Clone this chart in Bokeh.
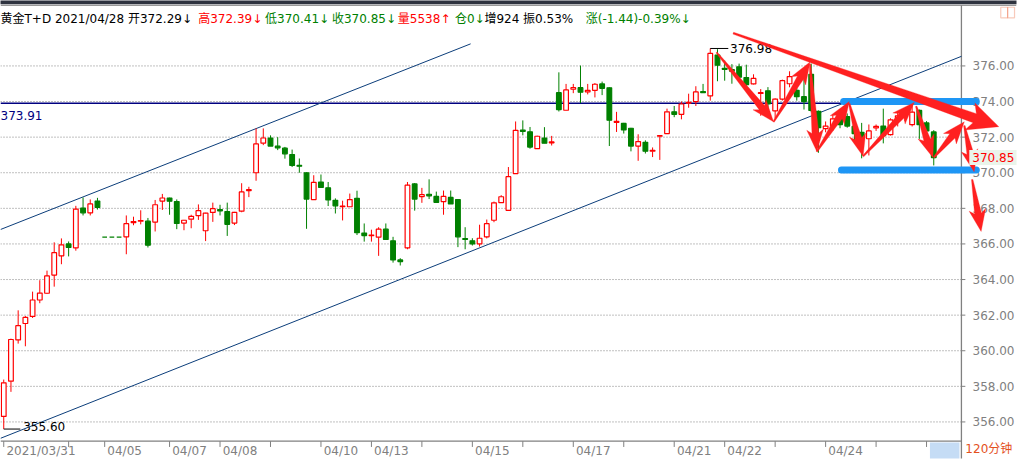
import math
from bokeh.plotting import figure
from bokeh.models import (Range1d, FixedTicker, PrintfTickFormatter, Label,
                          BoxAnnotation, PolyAnnotation, Arrow, ColumnDataSource)
from bokeh.embed import file_html
from bokeh.resources import INLINE

# ---------------- data (120-minute bars, 黄金T+D) ----------------
opens = [356.31,358.29,360.61,361.53,361.93,362.85,363.23,364.25,365.33,366.00,
         365.78,368.02,367.75,368.41,366.38,366.38,366.38,366.40,367.20,367.28,
         367.28,367.23,368.41,368.58,368.38,367.17,367.39,367.59,366.74,367.77,
         367.93,367.82,367.17,367.84,369.00,370.00,371.66,371.95,371.49,371.38,
         371.02,370.41,370.00,368.49,369.48,369.15,368.45,368.10,368.09,368.56,
         366.61,366.47,366.38,366.83,366.18,365.10,365.78,369.37,368.66,368.79,
         368.67,368.38,368.61,368.49,366.30,366.18,366.00,366.40,367.33,368.32,
         367.89,369.95,372.40,372.30,371.35,371.95,371.68,374.50,373.51,374.69,
         374.78,374.54,374.63,374.99,374.77,372.83,372.77,372.50,371.50,371.71,
         371.21,372.05,372.20,373.42,373.28,373.91,374.00,374.56,374.32,376.61,
         375.86,375.80,375.95,375.35,374.99,374.45,374.60,373.48,374.14,375.00,
         374.63,374.27,375.53,373.45,372.48,372.62,373.20,373.15,372.60,372.27,
         371.91,372.52,372.62,372.14,372.95,373.20,372.70,373.50,372.80,372.29]
highs = [358.38,360.68,362.27,361.95,363.32,363.96,364.50,366.09,366.31,366.14,
         368.14,368.61,368.50,368.59,366.38,366.38,366.38,367.60,367.53,367.89,
         367.46,368.47,368.81,368.60,368.50,367.35,367.64,368.22,367.75,368.32,
         368.20,368.32,367.80,369.41,369.21,372.49,372.49,372.10,372.00,371.45,
         371.30,370.80,370.02,369.86,369.90,369.48,368.56,368.43,368.83,368.99,
         367.15,366.80,366.94,367.15,366.40,365.20,369.48,369.42,369.15,369.63,
         368.94,369.00,369.00,368.50,366.94,366.32,367.08,367.37,368.38,368.74,
         370.32,372.88,372.94,372.57,372.08,372.56,372.07,375.64,374.99,374.99,
         376.02,374.99,375.04,375.12,374.80,373.42,372.80,372.52,372.16,371.82,
         371.42,372.11,373.60,373.75,374.00,374.44,374.86,374.99,376.98,376.94,
         376.30,376.10,376.13,376.07,375.53,374.70,374.81,374.18,375.23,375.70,
         374.77,375.23,376.13,373.50,372.88,373.24,373.35,373.33,372.90,372.80,
         372.71,372.71,373.60,373.06,373.40,373.60,373.90,373.55,372.90,372.39]
lows = [355.60,357.69,360.40,360.25,361.84,362.67,363.20,363.60,364.86,365.30,
        365.62,367.60,367.60,367.93,366.38,366.38,366.38,365.42,367.05,367.10,
        365.80,366.70,367.91,367.64,366.83,366.77,366.88,367.35,366.16,367.24,
        367.60,366.45,367.06,367.78,368.63,369.55,371.55,371.50,371.27,370.79,
        370.32,370.00,366.85,368.49,369.17,368.13,367.71,367.32,368.09,366.50,
        366.13,366.13,365.33,366.25,364.95,364.79,365.70,367.87,368.31,368.52,
        368.34,367.64,368.25,365.82,365.70,365.91,365.85,366.31,367.22,368.32,
        367.89,369.95,372.10,371.35,371.35,371.66,371.53,373.44,373.51,374.47,
        373.91,374.40,374.23,374.36,371.50,372.29,372.20,371.20,370.67,371.08,
        370.88,370.72,372.20,373.12,373.00,373.65,373.75,374.50,374.05,375.14,
        375.17,375.00,375.14,374.77,374.96,373.20,373.60,373.06,374.05,374.80,
        374.05,373.55,373.40,371.12,372.27,372.35,372.50,372.53,371.80,370.81,
        370.97,372.35,371.65,372.09,372.60,372.90,372.60,371.90,371.90,370.41]
closes = [358.20,360.63,361.41,361.87,362.85,363.24,364.20,365.51,365.95,365.80,
          367.95,367.75,368.25,368.05,366.38,366.38,366.38,367.14,367.26,367.31,
          365.93,368.20,368.58,368.40,367.15,367.33,367.55,367.87,367.73,367.98,
          367.86,367.10,367.77,368.92,369.05,371.62,371.95,371.50,371.40,371.06,
          370.41,370.37,368.52,369.46,369.17,368.47,368.14,368.12,368.49,366.63,
          366.47,366.50,366.83,366.25,365.10,365.01,369.30,368.52,368.77,368.70,
          368.34,368.67,368.25,366.40,366.25,366.00,366.32,367.14,368.31,368.65,
          369.78,372.38,372.32,371.44,372.05,371.66,371.73,373.55,374.65,374.78,
          374.52,374.63,374.97,374.74,372.95,372.88,372.40,371.50,371.75,371.21,
          371.26,372.08,373.42,373.28,373.86,373.96,374.54,374.50,376.70,376.04,
          375.80,375.70,375.37,374.95,375.30,374.50,373.87,374.14,375.17,375.40,
          374.27,374.00,373.50,372.53,372.62,373.03,372.70,372.62,372.20,371.91,
          372.35,372.60,372.09,372.97,373.20,373.40,373.40,372.70,372.35,370.85]

tick_idx = [0, 9, 14, 23, 30, 37, 44, 51, 58, 65, 72, 79, 86, 93, 100, 107, 114, 121, 128]
tick_labels = ["2021/03/31", "", "04/05", "04/07", "04/08", "", "04/10", "04/13", "",
               "04/15", "", "04/17", "", "04/21", "04/22", "", "04/24", "", ""]
price_ticks = [356, 358, 360, 362, 364, 366, 368, 370, 372, 374, 376]
ref_price = 373.91
period_label = "120分钟"

header_texts = ["黄金T+D 2021/04/28 开372.29↓", "高372.39↓", "低370.41↓", "收370.85↓",
                "量5538↑", "仓0↓", "增924 振0.53%", "涨(-1.44)-0.39%↓"]
header_colors = ["#000000", "#FF0000", "#008000", "#008000", "#FF0000", "#008000",
                 "#000000", "#008000"]

# hand-drawn annotations (bar index, price)
channel_upper = [(-0.45, 366.81), (64.76, 377.24)]
channel_lower = [(-0.45, 355.08), (132.84, 376.54)]
blue_levels = [(116.5, 134.9, 374.0), (116.2, 134.9, 370.16)]
big_arrow = [(101.19, 377.84), (138.02, 372.59)]
zigzag = [((98.87, 376.76), (106.78, 372.86)), ((106.78, 372.86), (111.83, 376.22)),
          ((111.83, 376.11), (112.78, 371.19)), ((112.78, 371.19), (117.28, 374.00)),
          ((117.28, 373.89), (119.20, 370.92)), ((119.20, 370.92), (126.29, 373.95)),
          ((126.56, 373.73), (128.88, 370.86)), ((129.02, 370.86), (133.24, 372.86)),
          ((133.24, 372.65), (134.60, 370.05)), ((134.33, 369.62), (135.57, 366.70))]

# ---------------- geometry of the reference panel ----------------
W, H = 1017, 460
PX_I, PX_V = 7.33, 18.5          # reference pixels per bar / per price unit
def XI(px):                      # reference x pixel -> bar index
    return (px - 3.3) / PX_I
def YV(py):                      # reference y pixel -> price
    return 376 - (py - 68) / PX_V

AX_X = XI(977)     # price-axis line
AX_Y = YV(458)     # date-axis line
GRAY = "#808080"
FONT = "DejaVu Sans, Noto Sans CJK SC"

p = figure(width=W, height=H, x_range=Range1d(XI(0), XI(1033)),
           y_range=Range1d(YV(476), YV(0)),
           y_axis_location="right", output_backend="svg", toolbar_location=None,
           min_border_left=0, min_border_top=0, min_border_right=0, min_border_bottom=0,
           background_fill_color="white", border_fill_color="white")
p.outline_line_color = None
p.grid.visible = False

# right price axis (labels drawn back inside the panel, right of the axis line)
ya = p.yaxis[0]
ya.ticker = FixedTicker(ticks=price_ticks)
ya.formatter = PrintfTickFormatter(format="%.2f")
ya.axis_line_color = None
ya.major_tick_line_color = None
ya.minor_tick_line_color = None
ya.major_tick_in = 0
ya.major_tick_out = 0
ya.major_label_standoff = -44
ya.major_label_text_font = FONT
ya.major_label_text_font_size = "12px"
ya.major_label_text_color = GRAY

# bottom date axis: labels start just right of each tick
px_per_bar = W / (XI(1033) - XI(0))
def text_w(s):
    return sum(7.63 if c.isdigit() else 4.04 for c in s)
centers, overrides = [], {}
for t, lab in zip(tick_idx, tick_labels):
    if lab:
        c = round(t + (2.7 + text_w(lab) / 2) / px_per_bar, 3)
        centers.append(c)
        overrides[c] = lab
xa = p.xaxis[0]
xa.ticker = FixedTicker(ticks=centers)
xa.major_label_overrides = overrides
xa.axis_line_color = None
xa.major_tick_line_color = None
xa.minor_tick_line_color = None
xa.major_tick_in = 0
xa.major_tick_out = 0
xa.major_label_standoff = -15
xa.major_label_text_font = FONT
xa.major_label_text_font_size = "12px"
xa.major_label_text_color = GRAY

# top chrome
p.add_layout(BoxAnnotation(left=XI(-5), right=XI(1040), bottom=YV(4), top=YV(-5),
                           fill_color="#2E333F", fill_alpha=1, line_color=None))
p.segment(x0=[XI(0)], y0=[YV(5)], x1=[XI(1033)], y1=[YV(5)], line_color=GRAY)

# dotted grid, axis lines and tick marks
p.segment(x0=[XI(0)] * len(price_ticks), y0=price_ticks, x1=[AX_X] * len(price_ticks),
          y1=price_ticks, line_color=GRAY, line_dash="1 2", line_width=1)
p.segment(x0=[AX_X] * len(price_ticks), y0=price_ticks, x1=[XI(981)] * len(price_ticks),
          y1=price_ticks, line_color=GRAY)
p.segment(x0=[AX_X], y0=[YV(5)], x1=[AX_X], y1=[YV(480)], line_color=GRAY, line_width=1.3)
p.segment(x0=[XI(0)], y0=[AX_Y], x1=[AX_X], y1=[AX_Y], line_color=GRAY, line_width=1.3)
p.segment(x0=tick_idx, y0=[AX_Y] * len(tick_idx), x1=tick_idx,
          y1=[YV(464)] * len(tick_idx), line_color=GRAY)

# reference price line
p.segment(x0=[XI(0)], y0=[ref_price], x1=[AX_X], y1=[ref_price],
          line_color="#000080", line_width=1.5)

# channel lines
for (a, b) in (channel_upper, channel_lower):
    p.line([a[0], b[0]], [a[1], b[1]], line_color="#0B3D7A", line_width=1)

# candles
idx = list(range(len(opens)))
up = [c > o for o, c in zip(opens, closes)]
col = ["#FF0000" if u else "#008000" for u in up]
src = ColumnDataSource(dict(
    x=idx, o=opens, h=highs, l=lows, c=closes, col=col,
    top=[max(o, c) for o, c in zip(opens, closes)],
    bot=[min(o, c) for o, c in zip(opens, closes)],
    fill=["#FFFFFF" if u else "#008000" for u in up]))
p.segment(x0="x", y0="h", x1="x", y1="l", line_color="col", line_width=1, source=src)
p.vbar(x="x", top="top", bottom="bot", width=0.65, fill_color="fill",
       line_color="col", line_width=1.2, source=src)

# high / low markers
hi = max(idx, key=lambda i: highs[i])
lo = min(idx, key=lambda i: lows[i])
p.segment(x0=[hi], y0=[highs[hi]], x1=[hi + 2.5], y1=[highs[hi]], line_color="black")
p.segment(x0=[lo], y0=[lows[lo]], x1=[lo + 2.3], y1=[lows[lo]], line_color="black")
p.add_layout(Label(x=hi + 2.75, y=highs[hi], text=f"{highs[hi]:.2f}", text_font=FONT,
                   text_font_size="12px", text_color="black", text_baseline="middle"))
p.add_layout(Label(x=lo + 2.7, y=lows[lo], y_offset=3, text=f"{lows[lo]:.2f}",
                   text_font=FONT, text_font_size="12px", text_color="black",
                   text_baseline="alphabetic"))
p.add_layout(Label(x=XI(0), y=YV(119), text=f"{ref_price:.2f}", text_font=FONT,
                   text_font_size="12px", text_color="#000080", text_baseline="alphabetic"))

# blue horizontal levels
for a, b, v in blue_levels:
    p.add_layout(Arrow(end=None, x_start=a, y_start=v, x_end=b, y_end=v,
                       line_color="#1E96F5", line_width=7, line_cap="round"))

# red hand-drawn arrows
def arrow_poly(s, e, w0, w1, hl, hw):
    xa_, ya_ = s[0] * PX_I, -s[1] * PX_V
    xb, yb = e[0] * PX_I, -e[1] * PX_V
    dx, dy = xb - xa_, yb - ya_
    L = math.hypot(dx, dy)
    ux, uy = dx / L, dy / L
    nx, ny = -uy, ux
    kx, ky = xb - ux * hl, yb - uy * hl
    bx, by = kx - ux * hl * 0.2, ky - uy * hl * 0.2
    pts = [(xa_ + nx * w0 / 2, ya_ + ny * w0 / 2), (kx + nx * w1 / 2, ky + ny * w1 / 2),
           (bx + nx * hw / 2, by + ny * hw / 2), (xb, yb),
           (bx - nx * hw / 2, by - ny * hw / 2), (kx - nx * w1 / 2, ky - ny * w1 / 2),
           (xa_ - nx * w0 / 2, ya_ - ny * w0 / 2)]
    return [q[0] / PX_I for q in pts], [-q[1] / PX_V for q in pts]

for s, e in zigzag:
    xs, ys = arrow_poly(s, e, 1.5, 7, 19, 17)
    p.add_layout(PolyAnnotation(xs=xs, ys=ys, fill_color="#FF2020", fill_alpha=1,
                                line_color="#FF2020", line_width=1))
xs, ys = arrow_poly(big_arrow[0], big_arrow[1], 2, 10, 26, 30)
p.add_layout(PolyAnnotation(xs=xs, ys=ys, fill_color="#FF2020", fill_alpha=1,
                            line_color="#FF2020", line_width=1))

# header
header_x = [0, 201, 269, 337, 404, 462, 492, 595]
for t, c, hx in zip(header_texts, header_colors, header_x):
    p.add_layout(Label(x=XI(hx), y=YV(19.5), text=t, text_font=FONT,
                       text_font_size="12px", text_color=c, text_baseline="alphabetic"))

# small chrome on the right
p.add_layout(BoxAnnotation(left=XI(1017), right=XI(1024), bottom=YV(18), top=YV(7),
                           fill_alpha=0, line_color="#E8501E", line_width=1.2))
p.add_layout(BoxAnnotation(left=XI(1024), right=XI(1031), bottom=YV(18), top=YV(7),
                           fill_alpha=0, line_color="#E8501E", line_width=1.2))
p.add_layout(BoxAnnotation(left=XI(945), right=XI(975), bottom=YV(480), top=YV(459.5),
                           fill_color="#C5DCF5", fill_alpha=1, line_color=None))
p.add_layout(Label(x=XI(981), y=YV(466.5), text=period_label, text_font=FONT,
                   text_font_size="12px", text_color="#E4501C", text_baseline="middle"))
p.add_layout(Label(x=XI(985), y=closes[-1], text=f"{closes[-1]:.2f}", text_font=FONT,
                   text_font_size="12px", text_color="#FF0000", text_baseline="middle",
                   background_fill_color="#EAF4EA", background_fill_alpha=1, padding=3))

open("out.html", "w").write(file_html(p, INLINE))
